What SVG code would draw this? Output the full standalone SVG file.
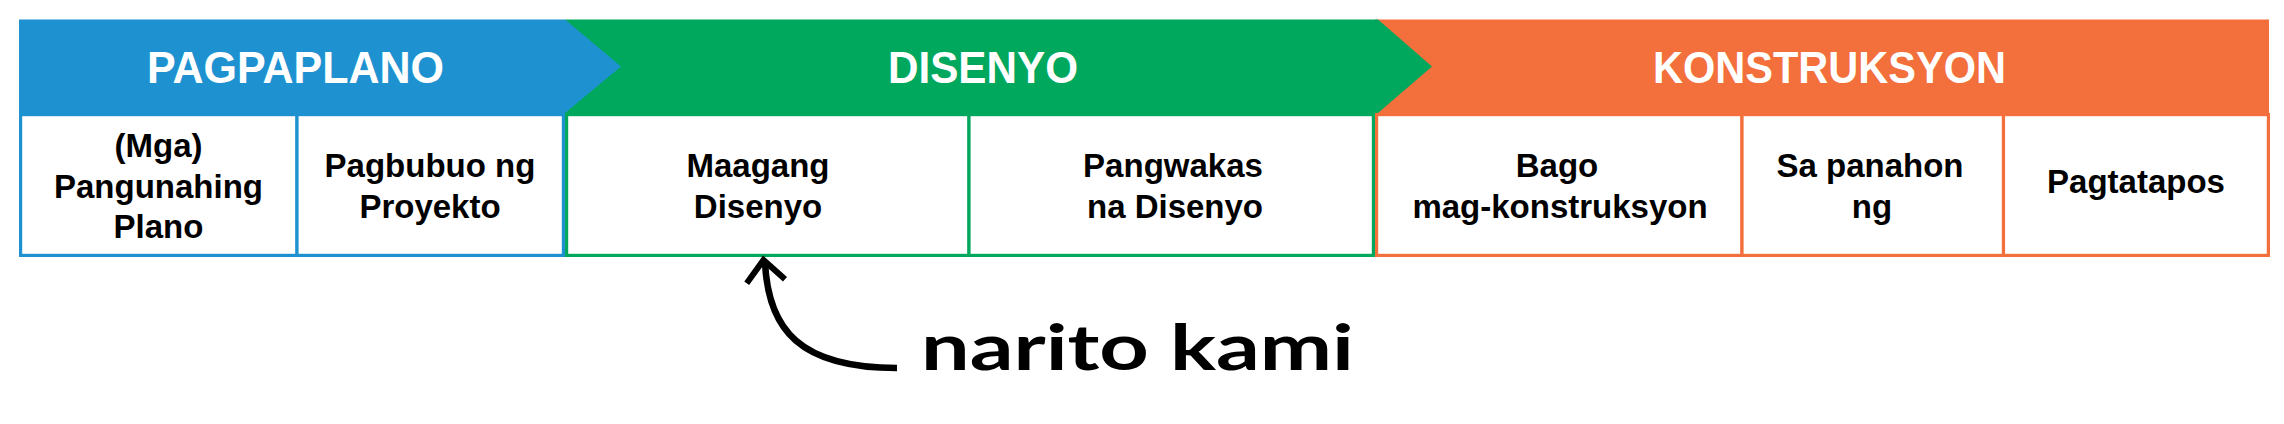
<svg xmlns="http://www.w3.org/2000/svg" width="2284" height="424" viewBox="0 0 2284 424">
<style>
.hd{font-family:"Liberation Sans",Arial,sans-serif;font-weight:bold;font-size:44px;fill:#ffffff;text-anchor:middle}
.bx{font-family:"Liberation Sans",Arial,sans-serif;font-weight:bold;font-size:33px;fill:#000000;text-anchor:middle}
.box{fill:#ffffff;stroke-width:3.2}
.b{stroke:#1E92D0}
.g{stroke:#00A85D}
.o{stroke:#F36F3B}
.hand{font-family:Lato,"Noto Sans",sans-serif;font-weight:bold;font-size:64px;fill:#000000}
.conn{fill:none;stroke:#000000}
</style>
<rect width="2284" height="424" fill="#ffffff"/>
<g id="phase-konstruksyon">
<rect x="1375" y="19.5" width="894" height="93.5" fill="#F36F3B"/>
<text class="hd" x="1829.5" y="83" textLength="353" lengthAdjust="spacingAndGlyphs">KONSTRUKSYON</text>
</g>
<g id="phase-disenyo">
<polygon points="565,19.5 1378,19.5 1432,66.5 1378,113 565,113" fill="#00A85D"/>
<text class="hd" x="983" y="83" textLength="190" lengthAdjust="spacingAndGlyphs">DISENYO</text>
</g>
<g id="phase-pagpaplano">
<polygon points="19,19.5 565,19.5 621,66.5 565,113 19,113" fill="#1E92D0"/>
<text class="hd" x="295.5" y="83" textLength="297" lengthAdjust="spacingAndGlyphs">PAGPAPLANO</text>
</g>
<g id="box-mga-pangunahing-plano">
<rect class="box b" x="20.6" y="114.6" width="276.4" height="140.8"/>
<text class="bx" x="158.5" y="157">(Mga)</text>
<text class="bx" x="158.5" y="198">Pangunahing</text>
<text class="bx" x="158.5" y="238">Plano</text>
</g>
<g id="box-pagbubuo">
<rect class="box b" x="297" y="114.6" width="266.4" height="140.8"/>
<text class="bx" x="430" y="177">Pagbubuo ng</text>
<text class="bx" x="430" y="218">Proyekto</text>
</g>
<g id="box-maagang-disenyo">
<rect class="box g" x="566.6" y="114.6" width="402.4" height="140.8"/>
<text class="bx" x="758" y="177">Maagang</text>
<text class="bx" x="758" y="218">Disenyo</text>
</g>
<g id="box-pangwakas-disenyo">
<rect class="box g" x="969" y="114.6" width="404.4" height="140.8"/>
<text class="bx" x="1173" y="177">Pangwakas</text>
<text class="bx" x="1175" y="218">na Disenyo</text>
</g>
<g id="box-bago-konstruksyon">
<rect class="box o" x="1376.6" y="114.6" width="365.4" height="140.8"/>
<text class="bx" x="1557" y="177">Bago</text>
<text class="bx" x="1560" y="218">mag-konstruksyon</text>
</g>
<g id="box-sa-panahon">
<rect class="box o" x="1742" y="114.6" width="261.5" height="140.8"/>
<text class="bx" x="1870" y="177">Sa panahon</text>
<text class="bx" x="1872" y="218">ng</text>
</g>
<g id="box-pagtatapos">
<rect class="box o" x="2003.5" y="114.6" width="264.9" height="140.8"/>
<text class="bx" x="2136" y="193">Pagtatapos</text>
</g>
<g id="connectors">
<path class="conn" d="M765,262 C768,330 800,368 897,368" stroke-width="6.5"/>
<polyline class="conn" points="746.7,283.3 763.5,260 785,279.3" stroke-width="6"/>
</g>
<g id="label-narito-kami">
<text class="hand" x="921" y="370" textLength="433" lengthAdjust="spacingAndGlyphs">narito kami</text>
</g>
</svg>
